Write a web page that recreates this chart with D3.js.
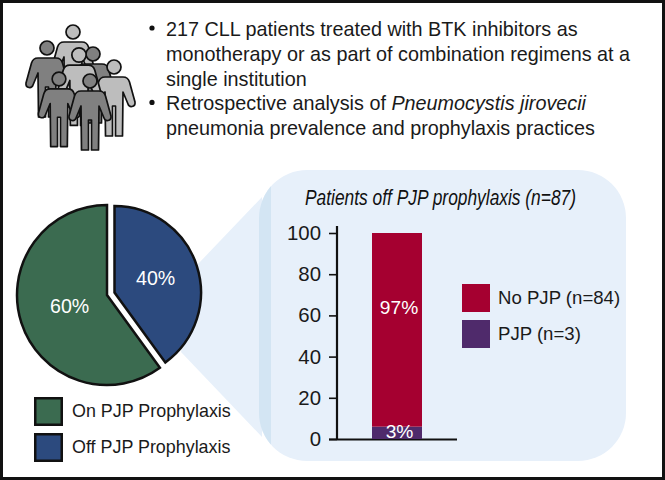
<!DOCTYPE html>
<html>
<head>
<meta charset="utf-8">
<script src="https://cdn.jsdelivr.net/npm/d3@7"></script>
<style>
html, body { margin: 0; padding: 0; background: #fff; }
svg { display: block; }
text { font-family: "Liberation Sans", Arial, sans-serif; }
</style>
</head>
<body>
<svg width="665" height="480"></svg>
<script>
var pieLabels = ["On PJP Prophylaxis", "Off PJP Prophylaxis"];
var pieValues = [60, 40];
var pieColors = ["#3b6b50", "#2c4a7e"];

var barLabels = ["PJP (n=3)", "No PJP (n=84)"];
var barValues = [6, 94];
var barText = ["3%", "97%"];
var barColors = ["#4f2a6b", "#a50030"];
var barTicks = [0, 20, 40, 60, 80, 100];

var bullets = [
    ["217 CLL patients treated with BTK inhibitors as", "monotherapy or as part of combination regimens at a", "single institution"],
    ["Retrospective analysis of <i>Pneumocystis jirovecii</i>", "pneumonia prevalence and prophylaxis practices"]
];

// head position and fill of each person in the icon, back to front
var people = [
    { x: 73, y: 32, s: 1, fill: "#bdbdbd" },
    { x: 93, y: 54, s: 1, fill: "#808080" },
    { x: 47, y: 48, s: 1, fill: "#808080" },
    { x: 114, y: 67, s: 1, fill: "#bdbdbd" },
    { x: 79, y: 55, s: 1.02, fill: "#bdbdbd" },
    { x: 59, y: 79, s: 0.98, fill: "#808080" },
    { x: 90, y: 81, s: 1, fill: "#808080" }
];

var svg = d3.select("svg");
var width = +svg.attr("width");
var height = +svg.attr("height");

svg.append("rect")
    .attr("x", 1.5).attr("y", 1.5)
    .attr("width", width - 3).attr("height", height - 3)
    .attr("fill", "#fff").attr("stroke", "#111").attr("stroke-width", 3);

// people icon
function drawPerson(p) {
    var g = svg.append("g")
        .attr("transform", "translate(" + p.x + "," + p.y + ") scale(" + p.s + ")");
    g.append("path")
        .attr("d", "M-9,10 Q-14,10 -15.5,15 L-21,35 Q-21.5,39 -18,39.5 Q-15,40 -14,37 L-9,25 L-8.5,69 L-1.5,69 L-1.5,39 L1.5,39 L1.5,69 L8.5,69 L9,25 L14,37 Q15,40 18,39.5 Q21.5,39 21,35 L15.5,15 Q14,10 9,10 Z")
        .attr("fill", p.fill).attr("stroke", "#111").attr("stroke-width", 1.7).attr("stroke-linejoin", "round");
    g.append("circle")
        .attr("r", 7)
        .attr("fill", p.fill).attr("stroke", "#111").attr("stroke-width", 1.7);
}
people.forEach(drawPerson);

// bullets
var lineY = 36;
bullets.forEach(function(lines) {
    svg.append("circle").attr("cx", 152).attr("cy", lineY - 8).attr("r", 2.6).attr("fill", "#111");
    lines.forEach(function(line) {
        var t = svg.append("text").attr("x", 166).attr("y", lineY).attr("font-size", 19.8).attr("fill", "#1a1a1a");
        line.split(/(<i>.*<\/i>)/).forEach(function(part) {
            if (!part) return;
            var italic = part.indexOf("<i>") === 0;
            t.append("tspan")
                .attr("font-style", italic ? "italic" : "normal")
                .text(part.replace(/<\/?i>/g, ""));
        });
        lineY += 24.8;
    });
});

// zoom wedge and panel
var cone = [[198, 264], [262, 197], [262, 437], [181, 352]];
svg.append("path").attr("d", d3.line()(cone)).attr("fill", "#e7f0fa");
svg.append("clipPath").attr("id", "panel-clip")
    .append("rect")
    .attr("x", 259).attr("y", 170).attr("width", 367).attr("height", 291).attr("rx", 48);
svg.append("rect")
    .attr("x", 259).attr("y", 170).attr("width", 367).attr("height", 291).attr("rx", 48)
    .attr("fill", "#e7f0fa");
svg.append("rect")
    .attr("x", 259).attr("y", 170).attr("width", 12).attr("height", 291)
    .attr("clip-path", "url(#panel-clip)")
    .attr("fill", "#d3e5f3");
svg.append("text")
    .attr("x", 305).attr("y", 205).attr("font-size", 22.5).attr("font-style", "italic")
    .attr("fill", "#111").attr("textLength", 271).attr("lengthAdjust", "spacingAndGlyphs")
    .text("Patients off PJP prophylaxis (n=87)");

// pie
var pie = d3.pie().sort(null).startAngle(2 * Math.PI).endAngle(0);
var arcs = pie(pieValues);
var pieCenters = [[107, 295], [114.5, 292.5]];
var pieRadii = [90, 86.5];
var pieText = [[50, 313], [136, 285]];
arcs.forEach(function(d, i) {
    var arc = d3.arc().innerRadius(0).outerRadius(pieRadii[i]);
    svg.append("path")
        .attr("transform", "translate(" + pieCenters[i] + ")")
        .attr("d", arc(d))
        .attr("fill", pieColors[i]).attr("stroke", "#111").attr("stroke-width", 2.5).attr("stroke-linejoin", "miter");
    svg.append("text")
        .attr("x", pieText[i][0]).attr("y", pieText[i][1])
        .attr("font-size", 19.6).attr("fill", "#fff").text(pieValues[i] + "%");
});

// pie legend
pieLabels.forEach(function(name, i) {
    var ly = 398.25 + i * 36;
    svg.append("rect").attr("x", 35.25).attr("y", ly).attr("width", 26.5).attr("height", 26.5)
        .attr("fill", pieColors[i]).attr("stroke", "#111").attr("stroke-width", 2.5);
    svg.append("text").attr("x", 72).attr("y", ly + 18.75).attr("font-size", 17.9).attr("fill", "#1a1a1a").text(name);
});

// stacked bar
var y = d3.scaleLinear().domain([0, 100]).range([439, 233]);
var yAxis = d3.axisLeft(y).tickValues(barTicks).tickSize(8).tickPadding(8);
var axisG = svg.append("g").attr("transform", "translate(337,0)").call(yAxis);
axisG.select(".domain").attr("stroke", "#111").attr("stroke-width", 2.2).attr("d", "M0,440V226");
axisG.selectAll(".tick line").attr("stroke", "#111").attr("stroke-width", 1.6);
axisG.selectAll(".tick text").attr("font-size", 20.4).attr("fill", "#1a1a1a")
    .style("font-family", '"Liberation Sans", Arial, sans-serif');
svg.append("line").attr("x1", 329).attr("x2", 457).attr("y1", 439.5).attr("y2", 439.5)
    .attr("stroke", "#111").attr("stroke-width", 2);

var base = 0;
barValues.forEach(function(v, i) {
    svg.append("rect")
        .attr("x", 372).attr("width", 50)
        .attr("y", y(base + v)).attr("height", y(base) - y(base + v))
        .attr("fill", barColors[i]);
    base += v;
});
svg.append("text").attr("x", 399).attr("y", 314).attr("text-anchor", "middle").attr("font-size", 19.2).attr("fill", "#fff").text(barText[1]);
svg.append("text").attr("x", 399.5).attr("y", 437.5).attr("text-anchor", "middle").attr("font-size", 19.2).attr("fill", "#fff").text(barText[0]);

// bar legend
[1, 0].forEach(function(i, k) {
    var ly = 284 + k * 36;
    svg.append("rect").attr("x", 462).attr("y", ly).attr("width", 28).attr("height", 28).attr("fill", barColors[i]);
    svg.append("text").attr("x", 498).attr("y", ly + 20).attr("font-size", 18.6).attr("fill", "#1a1a1a").text(barLabels[i]);
});
</script>
</body>
</html>
